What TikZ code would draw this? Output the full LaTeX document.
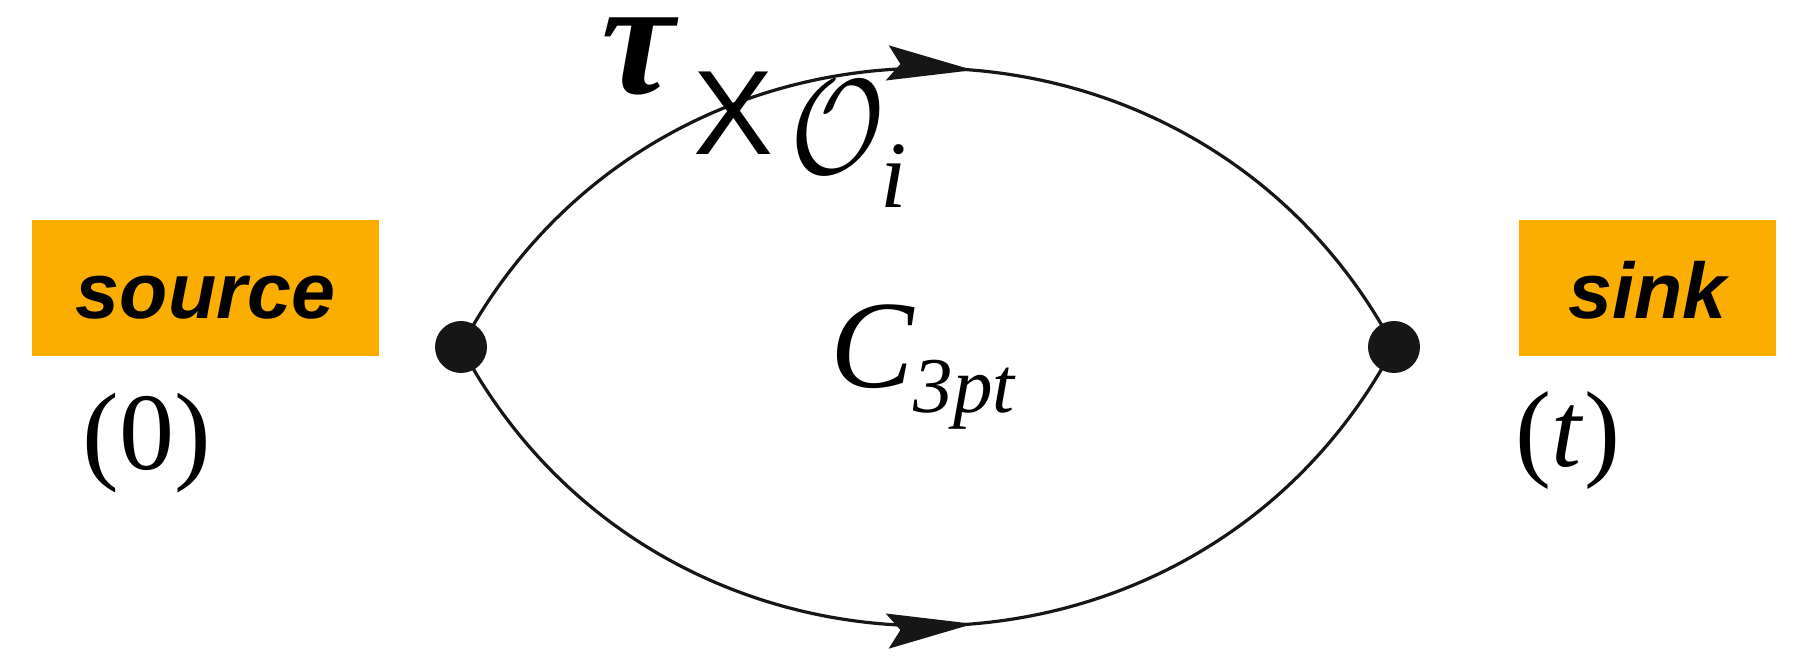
\documentclass[tikz,border=0pt]{standalone}
\usepackage{fontspec}
\usepackage{graphicx}
\setmainfont{Liberation Serif}
\newfontfamily\helv{Liberation Sans}
\usetikzlibrary{arrows.meta,decorations.markings}
\definecolor{boxfill}{RGB}{252,174,0}
\definecolor{ink}{RGB}{22,22,22}
\tikzset{
  vertex/.style={circle, fill=ink, minimum size=52pt, inner sep=0pt},
  tagbox/.style={fill=boxfill, inner sep=0pt, minimum height=136pt,
    text height=62pt, text depth=0pt,
    font=\helv\bfseries\itshape\fontsize{79}{79}\selectfont},
  prop/.style={line width=3.2pt, draw=ink, postaction={decorate},
    decoration={markings, mark=at position 0.54 with {\arrow[ink]{Stealth[length=86pt,width=35pt,inset=13pt]}}}},
  lbl/.style={inner sep=0pt, anchor=base},
}
\begin{document}
\begin{tikzpicture}[x=1pt,y=1pt]
\useasboundingbox (0,0) rectangle (1795,661);
% boxes
\node[tagbox, minimum width=347pt] (srcbox) at (205.5,373) {source};
\node[tagbox, minimum width=257pt] (snkbox) at (1647.5,373) {sink};
% vertices
\node[vertex] (L) at (461,314) {};
\node[vertex] (R) at (1394,314) {};
% propagators
\draw[prop] (L.center) to[out=62, in=118, looseness=1.157] (R.center);
\draw[prop] (L.center) to[out=-62, in=-118, looseness=1.157] (R.center);
% labels
\node[lbl, font=\fontsize{110}{110}\selectfont] (zero) at (147,191) {(0)};
\node[lbl, font=\fontsize{108}{108}\selectfont] (tlab) at (1568,194) {(\textit{t})};
\node[lbl, anchor=base west, font=\fontsize{125}{125}\selectfont\itshape] (cthree) at (830,273)
  {C\raisebox{-25pt}{\fontsize{79}{79}\selectfont 3pt}};
\node[lbl, font=\fontsize{165}{165}\selectfont\bfseries\itshape, text height=84pt, text depth=0pt] (tau) at (638,567) {τ};
\node[lbl, font=\helv\fontsize{120}{120}\selectfont, text height=87pt] (cross) at (733.5,506) {X};
\node[lbl, anchor=base west] (op) at (790,488) {\scalebox{11.5}[13.5]{$\mathcal{O}$}};
\node[lbl, font=\fontsize{95}{95}\selectfont\itshape] (opi) at (894,453) {i};
\end{tikzpicture}
\end{document}
